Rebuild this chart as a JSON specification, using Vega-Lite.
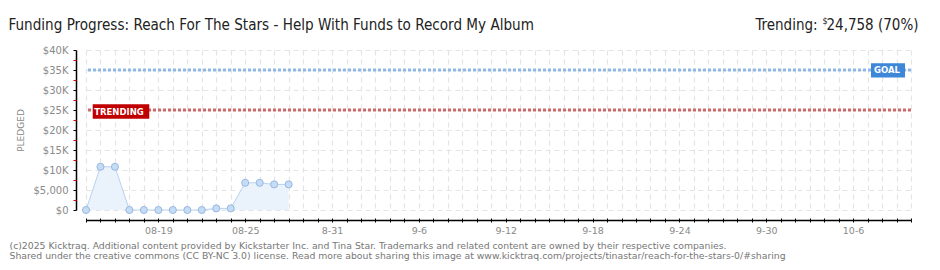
{
  "$schema": "https://vega.github.io/schema/vega-lite/v6.json",
  "width": 825,
  "height": 160,
  "autosize": {"type": "none"},
  "padding": {"left": 86, "top": 50, "right": 29, "bottom": 60},
  "background": "white",
  "config": {"view": {"stroke": null}},
  "datasets": {
    "pledges": [
      {"date": "2025-08-14", "pledged": 0},
      {"date": "2025-08-15", "pledged": 10800},
      {"date": "2025-08-16", "pledged": 10800},
      {"date": "2025-08-17", "pledged": 0},
      {"date": "2025-08-18", "pledged": 0},
      {"date": "2025-08-19", "pledged": 0},
      {"date": "2025-08-20", "pledged": 0},
      {"date": "2025-08-21", "pledged": 0},
      {"date": "2025-08-22", "pledged": 0},
      {"date": "2025-08-23", "pledged": 400},
      {"date": "2025-08-24", "pledged": 400},
      {"date": "2025-08-25", "pledged": 6800},
      {"date": "2025-08-26", "pledged": 6800},
      {"date": "2025-08-27", "pledged": 6400},
      {"date": "2025-08-28", "pledged": 6400}
    ],
    "trending": [{"label": "TRENDING", "amount": 25000}],
    "goal": [{"label": "GOAL", "amount": 35000}]
  },
  "resolve": {"axis": {"x": "independent", "y": "independent"}},
  "layer": [
    {
      "data": {"name": "pledges"},
      "mark": {"type": "area", "color": "#eaf2fc", "opacity": 1},
      "encoding": {
        "x": {
          "field": "date", "type": "temporal",
          "scale": {"type": "utc", "domain": ["2025-08-14", "2025-10-10"]},
          "axis": {
            "orient": "bottom", "offset": 10,
            "tickCount": {"interval": "day", "step": 1},
            "labelExpr": "datum.value >= utc(2025,7,19) && (floor((datum.value - utc(2025,7,14)) / 86400000 + 0.5) - 5) % 6 == 0 ? (datum.value < utc(2025,7,26) ? '08-' + utcdate(datum.value) : (utcmonth(datum.value) + 1) + '-' + utcdate(datum.value)) : ''",
            "labelOverlap": false, "labelBound": false, "labelFlush": false,
            "labelFont": "DejaVu Sans", "labelFontSize": 9.5, "labelColor": "#8a8a8a", "labelPadding": 3,
            "tickSize": 2, "tickColor": "#000", "tickWidth": 1,
            "domainColor": "#000", "domainWidth": 1.5,
            "grid": true, "gridColor": "#e4e4e4", "gridDash": [5, 4], "gridWidth": 1.2,
            "title": [
              "(c)2025 Kicktraq. Additional content provided by Kickstarter Inc. and Tina Star. Trademarks and related content are owned by their respective companies.",
              "Shared under the creative commons (CC BY-NC 3.0) license. Read more about sharing this image at www.kicktraq.com/projects/tinastar/reach-for-the-stars-0/#sharing"
            ],
            "titleX": -77, "titleY": 28, "titleAlign": "left", "titleAnchor": null,
            "titleBaseline": "alphabetic", "titleLineHeight": 10.8,
            "titleFont": "DejaVu Sans", "titleFontSize": 9.3, "titleFontWeight": "normal", "titleColor": "#777"
          }
        },
        "y": {
          "field": "pledged", "type": "quantitative",
          "scale": {"domain": [0, 40000], "nice": false},
          "axis": {
            "orient": "left", "offset": 10,
            "values": [0, 5000, 10000, 15000, 20000, 25000, 30000, 35000, 40000],
            "labelExpr": "datum.value == 0 ? '$0' : datum.value == 5000 ? '$5,000' : '$' + datum.value / 1000 + 'K'",
            "labelFont": "DejaVu Sans", "labelFontSize": 10, "labelColor": "#8a8a8a", "labelPadding": 5,
            "tickSize": 3, "tickColor": "#000", "tickWidth": 1,
            "domainColor": "#000", "domainWidth": 1.5,
            "grid": true, "gridColor": "#e4e4e4", "gridDash": [5, 4], "gridWidth": 1.2,
            "title": "PLEDGED",
            "titleX": -56, "titleY": 80, "titleAngle": -90, "titleAlign": "center", "titleBaseline": "middle",
            "titleFont": "DejaVu Sans", "titleFontSize": 9, "titleFontWeight": "normal", "titleColor": "#888"
          }
        }
      }
    },
    {
      "data": {"name": "pledges"},
      "mark": {"type": "line", "color": "#b8d3f0", "strokeWidth": 1},
      "encoding": {
        "x": {
          "field": "date", "type": "temporal",
          "axis": {
            "orient": "top", "domain": false, "ticks": false, "labels": false, "grid": false,
            "title": "Funding Progress: Reach For The Stars - Help With Funds to Record My Album",
            "titleX": -78, "titleY": -21, "titleAlign": "left", "titleAnchor": null, "titleAngle": 0,
            "titleBaseline": "alphabetic",
            "titleFont": "DejaVu Sans Condensed", "titleFontSize": 15.1, "titleFontWeight": "normal", "titleColor": "#222"
          }
        },
        "y": {
          "field": "pledged", "type": "quantitative",
          "axis": {
            "orient": "left", "offset": 10,
            "values": [2500, 7500, 12500, 17500, 22500, 27500, 32500, 37500],
            "domain": false, "labels": false, "grid": false,
            "tickSize": 3, "tickColor": "#e00000", "tickWidth": 1, "title": null
          }
        }
      }
    },
    {
      "data": {"name": "pledges"},
      "mark": {"type": "point", "shape": "circle", "filled": true, "size": 50, "color": "#c5dcf6", "stroke": "#98b8de", "strokeWidth": 1, "opacity": 1},
      "encoding": {
        "x": {
          "field": "date", "type": "temporal",
          "axis": {
            "orient": "top", "domain": false, "ticks": false, "labels": false, "grid": false,
            "title": "Trending:",
            "titleX": 669, "titleY": -21, "titleAlign": "left", "titleAnchor": null, "titleAngle": 0,
            "titleBaseline": "alphabetic",
            "titleFont": "DejaVu Sans Condensed", "titleFontSize": 15, "titleFontWeight": "normal", "titleColor": "#222"
          }
        },
        "y": {"field": "pledged", "type": "quantitative", "axis": null}
      }
    },
    {
      "data": {"name": "trending"},
      "mark": {"type": "rule", "color": "#cc6a6a", "strokeWidth": 3, "strokeDash": [3, 2]},
      "encoding": {"y": {"field": "amount", "type": "quantitative", "axis": null}}
    },
    {
      "data": {"name": "goal"},
      "mark": {"type": "rule", "color": "#8fb8e6", "strokeWidth": 3, "strokeDash": [3, 2]},
      "encoding": {"y": {"field": "amount", "type": "quantitative", "axis": null}}
    },
    {
      "data": {"name": "trending"},
      "mark": {"type": "point", "shape": "M-1,-0.26H1V0.26H-1Z", "size": 3200, "filled": true, "color": "#c00000", "opacity": 1, "xOffset": 35, "yOffset": 1.5},
      "encoding": {
        "x": {
          "datum": {"year": 2025, "month": 8, "date": 14, "utc": true}, "type": "temporal",
          "axis": {
            "orient": "bottom", "offset": 10,
            "tickCount": {"interval": "day", "step": 1},
            "tickSize": -2, "tickColor": "#000", "tickWidth": 1,
            "domain": false, "labels": false, "grid": false, "title": null
          }
        },
        "y": {"field": "amount", "type": "quantitative", "axis": null}
      }
    },
    {
      "data": {"name": "trending"},
      "mark": {"type": "text", "color": "white", "font": "DejaVu Sans", "fontSize": 8.5, "fontWeight": "bold", "xOffset": 33, "yOffset": 1.5, "align": "center", "baseline": "middle"},
      "encoding": {
        "x": {
          "datum": {"year": 2025, "month": 8, "date": 14, "utc": true}, "type": "temporal",
          "axis": {
            "orient": "top", "domain": false, "ticks": false, "labels": false, "grid": false,
            "title": "$",
            "titleX": 736, "titleY": -27, "titleAlign": "left", "titleAnchor": null, "titleAngle": 0,
            "titleBaseline": "alphabetic",
            "titleFont": "DejaVu Sans Condensed", "titleFontSize": 9, "titleFontWeight": "normal", "titleColor": "#222"
          }
        },
        "y": {"field": "amount", "type": "quantitative", "axis": null},
        "text": {"field": "label"}
      }
    },
    {
      "data": {"name": "goal"},
      "mark": {"type": "point", "shape": "M-1,-0.42H1V0.42H-1Z", "size": 1156, "filled": true, "color": "#3d87d8", "opacity": 1, "xOffset": -23, "yOffset": 0.3},
      "encoding": {
        "x": {
          "datum": {"year": 2025, "month": 10, "date": 10, "utc": true}, "type": "temporal",
          "axis": {
            "orient": "top", "domain": false, "ticks": false, "labels": false, "grid": false,
            "title": "24,758 (70%)",
            "titleX": 832, "titleY": -21, "titleAlign": "right", "titleAnchor": null, "titleAngle": 0,
            "titleBaseline": "alphabetic",
            "titleFont": "DejaVu Sans Condensed", "titleFontSize": 15, "titleFontWeight": "normal", "titleColor": "#222"
          }
        },
        "y": {"field": "amount", "type": "quantitative", "axis": null}
      }
    },
    {
      "data": {"name": "goal"},
      "mark": {"type": "text", "color": "white", "font": "DejaVu Sans", "fontSize": 8.5, "fontWeight": "bold", "xOffset": -24, "yOffset": 0.3, "align": "center", "baseline": "middle"},
      "encoding": {
        "x": {"datum": {"year": 2025, "month": 10, "date": 10, "utc": true}, "type": "temporal", "axis": null},
        "y": {"field": "amount", "type": "quantitative", "axis": null},
        "text": {"field": "label"}
      }
    }
  ]
}
